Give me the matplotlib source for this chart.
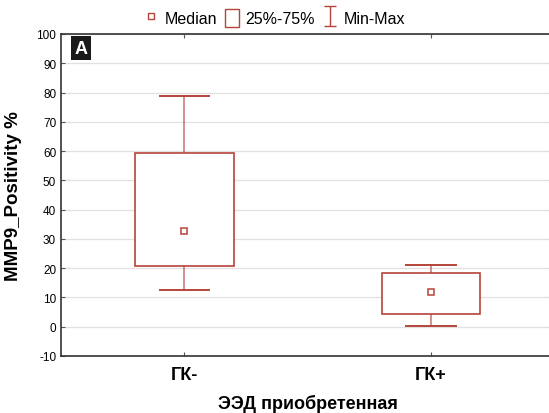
import matplotlib
matplotlib.use('Agg')
import matplotlib.pyplot as plt
from matplotlib.patches import Rectangle
from matplotlib.lines import Line2D
from matplotlib.path import Path

plt.rcParams['font.family'] = ['Liberation Sans', 'DejaVu Sans']
plt.rcParams['axes.unicode_minus'] = False

c_rojo = '#b5443a'
c_grid = '#d4cfcf'

grupos = ['ГК-', 'ГК+']
medianas = [32.8, 11.9]
q25 = [20.8, 4.4]
q75 = [59.4, 18.4]
minimos = [12.6, 0.3]
maximos = [78.8, 21.2]

fig = plt.figure(figsize=(5.49, 4.14), dpi=100)
ax = fig.add_axes([61 / 549, 1 - 357 / 414, 1 - 61 / 549 + 0.01, 322 / 414])

ancho_caja = 0.4
ancho_tope = 0.2
for i, g in enumerate(grupos):
    x = i + 1
    # bigotes min-max
    ax.plot([x, x], [q75[i], maximos[i]], color=c_rojo, lw=1.1, alpha=0.75, zorder=3)
    ax.plot([x, x], [minimos[i], q25[i]], color=c_rojo, lw=1.1, alpha=0.75, zorder=3)
    ax.plot([x - ancho_tope / 2, x + ancho_tope / 2], [maximos[i]] * 2, color=c_rojo, lw=1.4, zorder=3)
    ax.plot([x - ancho_tope / 2, x + ancho_tope / 2], [minimos[i]] * 2, color=c_rojo, lw=1.4, zorder=3)
    # caja 25%-75%
    ax.add_patch(Rectangle((x - ancho_caja / 2, q25[i]), ancho_caja, q75[i] - q25[i],
                           facecolor='white', edgecolor=c_rojo, lw=1.2, zorder=4))
    # mediana
    ax.plot(x, medianas[i], marker='s', ms=5, mfc='white', mec=c_rojo, mew=1.1, zorder=5)

ax.set_xlim(0.5, 2.5)
ax.set_ylim(-10, 100)
ax.set_yticks(range(-10, 101, 10))
ax.set_xticks([1, 2])
ax.set_xticklabels(grupos, fontsize=13, fontweight='bold')
ax.tick_params(axis='y', direction='in', length=3, labelsize=8.5, color='#555555')
ax.tick_params(axis='x', direction='in', length=3, pad=7, top=True, color='#555555')
ax.yaxis.grid(True, color=c_grid, lw=0.9, ls=(0, (1, 0.6)))
ax.set_axisbelow(True)
for lado in ['left', 'bottom', 'top']:
    ax.spines[lado].set_color('#333333')
    ax.spines[lado].set_linewidth(1.2)
ax.spines['right'].set_visible(False)

ax.set_ylabel('MMP9_Positivity %', fontsize=13.5, fontweight='bold', labelpad=10)
ax.set_xlabel('ЭЭД приобретенная', fontsize=13, fontweight='bold', labelpad=8)

ax.text(0.555, 95.2, 'A', fontsize=13, fontweight='bold', color='white', ha='left', va='center',
        bbox=dict(boxstyle='square,pad=0.2', facecolor='#1a1a1a', edgecolor='none'))

# marcador en forma de I para min-max
viga_i = Path([(-0.6, -1), (0.6, -1), (0, -1), (0, 1), (-0.6, 1), (0.6, 1)],
              [Path.MOVETO, Path.LINETO, Path.MOVETO, Path.LINETO, Path.MOVETO, Path.LINETO])

# leyenda superior
elementos = [
    Line2D([], [], marker='s', ls='none', ms=4, mfc='white', mec=c_rojo, mew=1),
    Rectangle((0, 0), 1, 1, facecolor='white', edgecolor=c_rojo, lw=1),
    Line2D([], [], ls='none', marker=viga_i, ms=15, mfc='none', mec=c_rojo, mew=1),
]
fig.legend(elementos, ['Median', '25%-75%', 'Min-Max'], loc='upper center',
           bbox_to_anchor=(0.5, 1.01), ncol=3, frameon=False, fontsize=11.5,
           handlelength=0.9, handleheight=1.3, handletextpad=0.4, columnspacing=0.5)

fig.savefig('out.png', dpi=100)
